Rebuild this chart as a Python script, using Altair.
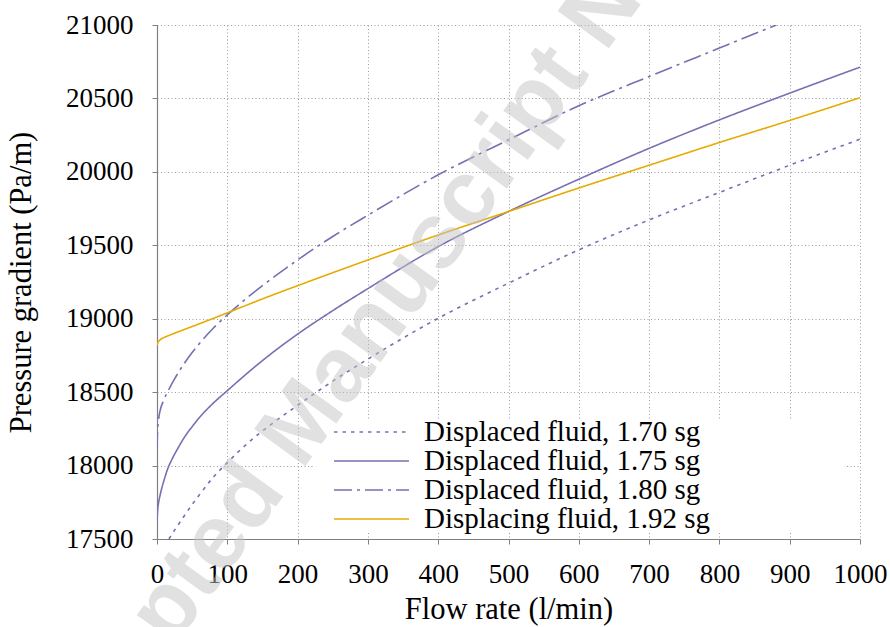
import altair as alt
import pandas as pd

# Flow rate (l/min) and pressure gradient (Pa/m) for each fluid
flow_170 = [17, 25, 38, 50, 61, 80, 100, 132, 165, 200, 250, 300, 400, 500, 600, 700, 800, 900, 1000]
grad_170 = [17500, 17560, 17652, 17735, 17805, 17920, 18020, 18165, 18290, 18410, 18575, 18725,
            19003, 19242, 19469, 19673, 19860, 20045, 20222]

flow_175 = [0, 1, 2, 4, 7, 10, 15, 20, 30, 40, 50, 60, 80, 100, 125, 150, 200, 250, 300,
            400, 500, 600, 700, 800, 900, 1000]
grad_175 = [17618, 17705, 17740, 17790, 17850, 17900, 17975, 18030, 18120, 18200, 18265, 18325,
            18425, 18510, 18615, 18715, 18895, 19055, 19205,
            19491, 19730, 19950, 20160, 20354, 20536, 20713]

flow_180 = [0, 0.5, 1, 2, 3, 5, 9, 16, 25, 38, 50, 61, 80, 100, 125, 150, 200, 250, 300,
            400, 500, 600, 700, 800, 881]
grad_180 = [18106, 18200, 18250, 18305, 18340, 18385, 18440, 18510, 18590, 18690, 18770, 18835,
            18935, 19026, 19130, 19225, 19400, 19560, 19705,
            19980, 20218, 20450, 20649, 20843, 21000]

flow_192 = [0, 1, 3, 6, 10, 20, 38, 60, 100, 150, 200, 300, 400, 500, 600, 700, 800, 900, 1000]
grad_192 = [18817, 18835, 18850, 18862, 18872, 18892, 18925, 18965, 19040, 19135, 19225, 19400,
            19570, 19730, 19890, 20045, 20200, 20350, 20505]

SERIES = [
    "Displaced fluid, 1.70 sg",
    "Displaced fluid, 1.75 sg",
    "Displaced fluid, 1.80 sg",
    "Displacing fluid, 1.92 sg",
]
COLORS = ["#7570b3", "#7570b3", "#7570b3", "#e6ab02"]
DASHES = [[3.5, 5], [1, 0], [18, 5, 3, 5], [1, 0]]

X_TICKS = list(range(0, 1001, 100))
Y_TICKS = list(range(17500, 21001, 500))

# Extent of the white legend panel, in axis units
LEGEND_PANEL = pd.DataFrame({"q0": [225], "q1": [978], "g0": [17548], "g1": [18311]})

rows = []
for name, qs, gs in zip(SERIES, [flow_170, flow_175, flow_180, flow_192],
                        [grad_170, grad_175, grad_180, grad_192]):
    for q, g in zip(qs, gs):
        rows.append({"series": name, "flow": q, "grad": g})
df = pd.DataFrame(rows)

SERIF = "Liberation Serif, Times New Roman, DejaVu Serif, serif"
AXIS_GREY = "#808080"
GRID_GREY = "#9a9a9a"

x_scale = alt.Scale(domain=[0, 1000], nice=False)
y_scale = alt.Scale(domain=[17500, 21000], nice=False)

x_axis = alt.Axis(
    values=X_TICKS, format="d", title="Flow rate (l/min)",
    grid=True, gridDash=[1, 2.5], gridColor=GRID_GREY, gridWidth=1,
    domainColor=AXIS_GREY, domainWidth=1.2, tickColor=AXIS_GREY, tickSize=5,
    labelFont=SERIF, labelFontSize=27, labelColor="black",
    labelPadding=38, labelBaseline="alphabetic", labelFlush=False,
    labelOverlap=False,
    titleFont=SERIF, titleFontSize=30.5, titleFontWeight="normal", titleColor="black",
    titleBaseline="alphabetic", titleY=79,
)
y_axis = alt.Axis(
    values=Y_TICKS, format="d", title="Pressure gradient (Pa/m)",
    grid=True, gridDash=[1, 2.5], gridColor=GRID_GREY, gridWidth=1,
    domainColor=AXIS_GREY, domainWidth=1.2, tickColor=AXIS_GREY, tickSize=5,
    labelFont=SERIF, labelFontSize=27, labelColor="black",
    labelPadding=19, labelBaseline="middle", labelFlush=False,
    labelOverlap=False,
    titleFont=SERIF, titleFontSize=30.5, titleFontWeight="normal", titleColor="black",
    titleBaseline="alphabetic", titleAngle=270, titleAlign="center",
    titleX=-127, titleY=257,
)

# White panel behind the legend entries
panel = alt.Chart(LEGEND_PANEL).mark_rect(fill="white", strokeWidth=0).encode(
    x=alt.X("q0:Q", scale=x_scale, axis=x_axis),
    x2="q1:Q",
    y=alt.Y("g0:Q", scale=y_scale, axis=y_axis),
    y2="g1:Q",
)

lines = alt.Chart(df).mark_line(strokeWidth=1.6, clip=True, interpolate="monotone").encode(
    x=alt.X("flow:Q", scale=x_scale, axis=x_axis),
    y=alt.Y("grad:Q", scale=y_scale, axis=y_axis),
    color=alt.Color(
        "series:N",
        scale=alt.Scale(domain=SERIES, range=COLORS),
        sort=SERIES,
        legend=alt.Legend(
            title=None, orient="none", legendX=176, legendY=393,
            symbolType="stroke", symbolSize=5625, symbolStrokeWidth=1.6,
            clipHeight=28, rowPadding=0, padding=0, symbolOffset=0,
            labelFont=SERIF, labelFontSize=29, labelColor="black",
            labelOffset=14, labelLimit=500,
        ),
    ),
    strokeDash=alt.StrokeDash(
        "series:N", scale=alt.Scale(domain=SERIES, range=DASHES), sort=SERIES
    ),
    detail="series:N",
)

watermark = alt.Chart(pd.DataFrame({"k": [0]})).mark_text(
    text="Accepted Manuscript Not Copyedited",
    font="Liberation Sans", fontWeight="bold", fontSize=92,
    angle=306, align="center", baseline="alphabetic",
    color="#c4c4c4", opacity=0.5,
).encode(x=alt.value(367), y=alt.value(140))

chart = (
    alt.layer(panel, lines, watermark)
    .resolve_scale(x="shared", y="shared")
    .properties(
        width=703, height=514,
        padding={"left": 157, "top": 25, "right": 30, "bottom": 88},
        autosize=alt.AutoSizeParams(type="none"),
        background="white",
    )
    .configure_view(stroke=None)
)

chart.save("out.html", embed_options={"renderer": "svg", "actions": False})
